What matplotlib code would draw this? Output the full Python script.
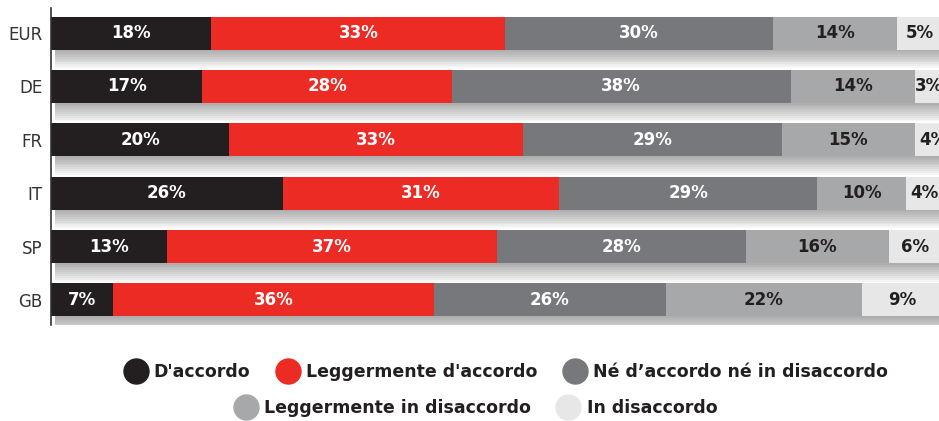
import matplotlib
matplotlib.use("Agg")
import matplotlib.pyplot as plt
from matplotlib.lines import Line2D
import numpy as np

categories = ["EUR", "DE", "FR", "IT", "SP", "GB"]
series_names = ["D'accordo", "Leggermente d'accordo", "Né d’accordo né in disaccordo",
                "Leggermente in disaccordo", "In disaccordo"]
d_accordo = [18, 17, 20, 26, 13, 7]
legg_accordo = [33, 28, 33, 31, 37, 36]
neutro = [30, 38, 29, 29, 28, 26]
legg_disaccordo = [14, 14, 15, 10, 16, 22]
disaccordo = [5, 3, 4, 4, 6, 9]

series = [d_accordo, legg_accordo, neutro, legg_disaccordo, disaccordo]
colors = ["#231f20", "#ec2b24", "#77787b", "#a7a8aa", "#e7e7e8"]
text_colors = ["white", "white", "white", "#231f20", "#231f20"]

W, H = 939, 421
fig = plt.figure(figsize=(W / 100, H / 100), dpi=100)
fig.patch.set_facecolor("white")
ax = fig.add_axes([51 / W, 1 - 325 / H, (W - 51) / W, (325 - 8) / H])
ax.set_facecolor("white")

y = np.arange(len(categories))
bar_h = 0.62
totals = np.sum(series, axis=0)

# soft shadow under bars
for k in range(10):
    off = 0.03 + 0.035 * k
    ax.barh(y + off, totals + 0.3, height=bar_h, left=0.4, color="black",
            alpha=0.035, linewidth=0, zorder=1)

left = np.zeros(len(categories))
for vals, col, tcol in zip(series, colors, text_colors):
    vals = np.array(vals, dtype=float)
    ax.barh(y, vals, height=bar_h, left=left, color=col, linewidth=0, zorder=3)
    for yi, (l, v) in enumerate(zip(left, vals)):
        ax.text(l + v / 2, yi, f"{int(v)}%", ha="center", va="center",
                color=tcol, fontsize=12, fontweight="bold", zorder=4,
                clip_on=True)
    left += vals

ax.set_xlim(0, (W - 51) / 8.91)
ax.set_ylim(5.47, -0.47)
ax.set_yticks(y)
ax.set_yticklabels(categories, fontsize=12, color="#333333")
ax.tick_params(axis="y", length=0, pad=6)
ax.set_xticks([])
for s in ["top", "right", "bottom"]:
    ax.spines[s].set_visible(False)
ax.spines["left"].set_color("#333333")
ax.spines["left"].set_linewidth(1.2)
ax.spines["left"].set_zorder(5)

handles = [Line2D([0], [0], marker="o", linestyle="none", markersize=18,
                  markerfacecolor=c, markeredgecolor=c) for c in colors]
leg_kw = dict(frameon=False, handletextpad=0.4, columnspacing=1.5,
              prop={"weight": "bold", "size": 12.5}, handlelength=1.3,
              borderaxespad=0, borderpad=0)
leg1 = fig.legend(handles[:3], series_names[:3], loc="center", ncol=3,
                  bbox_to_anchor=(506 / W, 1 - 372 / H), **leg_kw)
leg2 = fig.legend(handles[3:], series_names[3:], loc="center", ncol=2,
                  bbox_to_anchor=(476 / W, 1 - 408 / H), **leg_kw)
for leg in (leg1, leg2):
    for t in leg.get_texts():
        t.set_color("#231f20")

fig.savefig("out.png", dpi=100)
